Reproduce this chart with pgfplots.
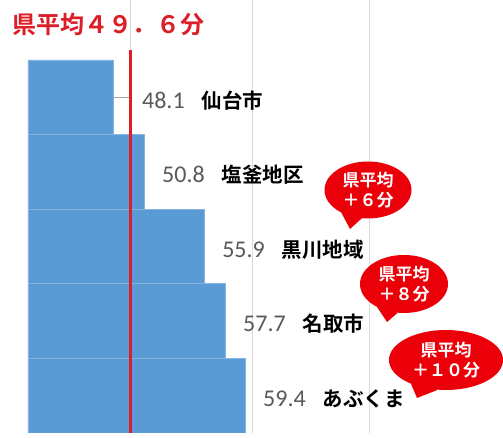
\documentclass[border=0pt]{standalone}
\usepackage{pgfplots}
\pgfplotsset{compat=1.18}
\usepackage{pgfplotstable}
\usepackage{fontspec}
\setmainfont{Carlito}
\newfontfamily\cjk{Noto Sans CJK JP}[BoldFont=Noto Sans CJK JP Bold]

\definecolor{barblue}{RGB}{91,155,213}
\definecolor{valgray}{RGB}{89,89,89}
\definecolor{gridgray}{RGB}{217,217,217}
\definecolor{avgred}{RGB}{220,30,40}
\definecolor{bubred}{RGB}{235,0,10}

% pos = row (top = 5), val = minutes, off = label offset
\pgfplotstableread{
pos val off name
5 48.1 2.48 仙台市
4 50.8 1.49 塩釜地区
3 55.9 1.52 黒川地域
2 57.7 1.51 名取市
1 59.4 1.52 あぶくま
}\data

% speech bubble: cx, cy, rx, ry, tipx, tipy, text (pt)
\newcommand{\bubble}[7]{%
  \fill[bubred] (#1pt,#2pt) ellipse [x radius=#3pt, y radius=#4pt];
  \fill[bubred] ([shift={(232:#3pt and #4pt)}]#1pt,#2pt) -- (#5pt,#6pt)
    -- ([shift={(262:#3pt and #4pt)}]#1pt,#2pt) -- cycle;
  \node[text=white, align=center, inner sep=0pt,
    font=\cjk\bfseries\fontsize{17}{20}\selectfont] at (#1pt,#2pt) {#7};}

\begin{document}
\begin{tikzpicture}
\begin{axis}[
  scale only axis, width=475pt, height=433pt,
  xmin=40.85, xmax=81.41, ymin=0.5, ymax=6.304,
  axis line style={draw=none}, tick style={draw=none},
  xtick={49.6,60,70}, xticklabels={}, ytick=\empty,
  xmajorgrids, major grid style={gridgray, line width=1.5pt},
]
\addplot[xbar, bar width=1, fill=barblue, draw=barblue!75!white, line width=0.7pt]
  table[x=val, y=pos]{\data};
\addplot[color=gray!70, line width=1pt] coordinates {(48.1,5) (49.6,5)};
\addplot[color=avgred, line width=2.5pt] coordinates {(49.6,0.5) (49.6,5.634)};
\addplot[only marks, mark=none, point meta=explicit symbolic,
  visualization depends on={\thisrow{val} \as \rawv},
  nodes near coords={{\color{valgray}\fontsize{24}{24}\selectfont\pgfmathprintnumber[fixed,fixed zerofill,precision=1,assume math mode=true]{\rawv}}\hspace{17pt}{\cjk\bfseries\fontsize{20.5}{22}\selectfont\pgfplotspointmeta}},
  every node near coord/.append style={anchor=west, inner sep=0pt, xshift=0pt, yshift=0pt}]
  table[x expr=\thisrow{val}+\thisrow{off}, y expr=\thisrow{pos}-0.04, meta=name]{\data};
\end{axis}
\node[anchor=west, inner sep=0pt, text=avgred] at (-16pt,409pt)
  {\cjk\bfseries\fontsize{24}{26}\selectfont 県平均４９．６分};
\bubble{340}{243}{43.5}{28.5}{322}{204}{県平均\\＋６分}
\bubble{376}{149}{44}{29}{359}{111}{県平均\\＋８分}
\bubble{418}{73}{57}{30}{389}{35}{県平均\\＋１０分}
\pgfresetboundingbox
\path[use as bounding box] (-28pt,-5pt) rectangle (475pt,433pt);
\end{tikzpicture}
\end{document}
